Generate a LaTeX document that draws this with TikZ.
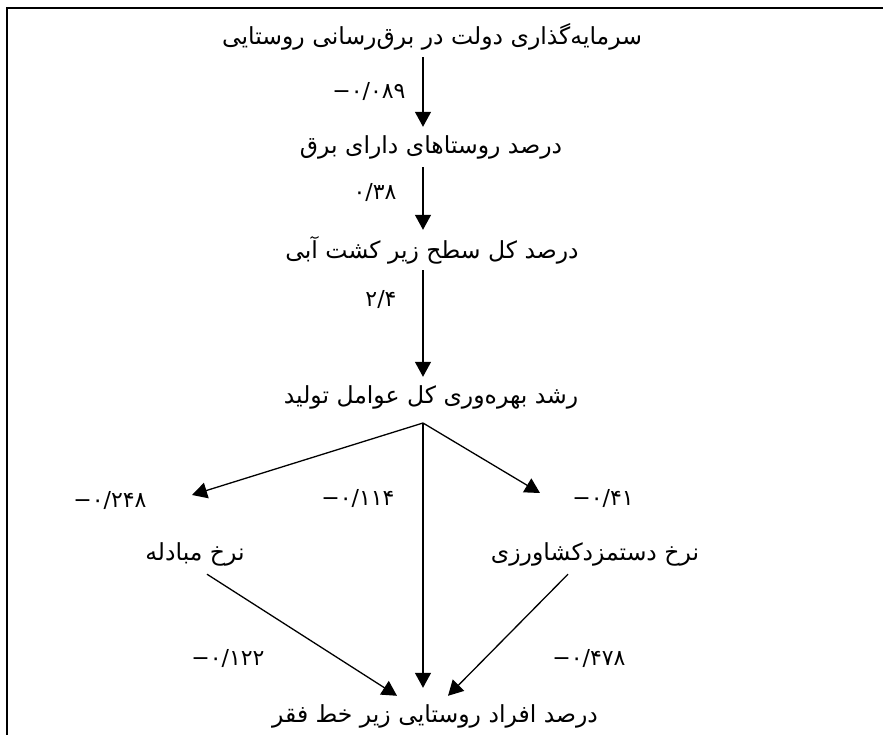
\documentclass[tikz,border=0pt]{standalone}
\usepackage{fontspec}
\usepackage{tikz}
\usetikzlibrary{arrows.meta}
\newfontfamily\arabicfont[Script=Arabic]{DejaVu Sans}
\TeXXeTstate=1
\newcommand\fa[1]{\beginR #1\endR}
\newcommand\mns{\hbox{−}}
\tikzset{varbox/.style={inner sep=0pt, minimum height=40pt, font=\arabicfont\fontsize{23.5}{27}\selectfont}, coef/.style={inner sep=0pt, font=\arabicfont\fontsize{22}{26}\selectfont}}
\tikzset{effect/.style={-{Triangle[length=15pt,width=16pt]}, line width=1.3pt}}

\begin{document}
\begin{tikzpicture}[x=1pt, y=-1pt]
\useasboundingbox (0,0) rectangle (883,735);
\draw[line width=2.4pt] (7,735) -- (7,8) -- (883,8);
\coordinate (axis) at (423,0);
\coordinate (fork) at (423,423);
\coordinate (exchtip) at (192,495);
\coordinate (wagetip) at (540,493);
 \draw (432,37) node[varbox] (invest) {\fa{سرمایه‌گذاری دولت در برق‌رسانی روستایی}};
 \draw (431,147) node[varbox] (elec) {\fa{درصد روستاهای دارای برق}};
 \draw (432,250) node[varbox] (irrig) {\fa{درصد کل سطح زیر کشت آبی}};
 \draw (431,397) node[varbox] (tfp) {\fa{رشد بهره‌وری کل عوامل تولید}};
 \draw (195,554) node[varbox] (exch) {\fa{نرخ مبادله}};
 \draw (595,554) node[varbox] (wage) {\fa{نرخ دستمزدکشاورزی}};
 \draw (435,716) node[varbox] (poor) {\fa{درصد افراد روستایی زیر خط فقر}};
 \draw (369,92) node[coef] (c1) {\mns۰/۰۸۹};
 \draw (375,193) node[coef] (c2) {۰/۳۸};
 \draw (381,300) node[coef] (c3) {۲/۴};
 \draw (110,500) node[coef] (c4) {\mns۰/۲۴۸};
 \draw (358,498) node[coef] (c5) {\mns۰/۱۱۴};
 \draw (603,498) node[coef] (c6) {\mns۰/۴۱};
 \draw (228,658) node[coef] (c7) {\mns۰/۱۲۲};
 \draw (589,658) node[coef] (c8) {\mns۰/۴۷۸};
 \draw[effect] (invest.south -| axis) -- (elec.north -| axis);
 \draw[effect] (elec.south -| axis) -- (irrig.north -| axis);
 \draw[effect] (irrig.south -| axis) -- (tfp.north -| axis);
 \draw[effect] (fork) -- (exchtip);
 \draw[effect] (fork) -- (wagetip);
 \draw[effect, shorten >=8pt] (fork) -- (poor.north -| fork);
 \draw[effect] ([xshift=12pt]exch.south) -- ([xshift=-38pt]poor.north);
 \draw[effect] ([xshift=-27pt]wage.south) -- ([xshift=13pt]poor.north);
\end{tikzpicture}
\end{document}
